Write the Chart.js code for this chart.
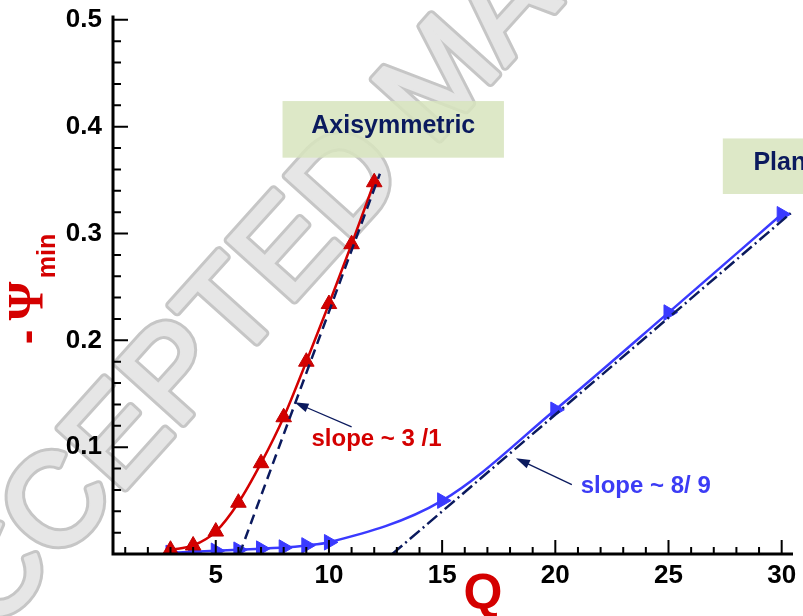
<!DOCTYPE html>
<html>
<head>
<meta charset="utf-8">
<script src="https://cdn.jsdelivr.net/npm/chart.js@4.4.1/dist/chart.umd.min.js"></script>
<style>
  html, body { margin: 0; padding: 0; background: #fff; }
  #wrap { width: 803px; height: 616px; }
</style>
</head>
<body>
<div id="wrap"><canvas id="chart"></canvas></div>
<script>
// values
const axiQ = [3, 4, 5, 6, 7, 8, 9, 10, 11, 12];
const axiPsi = [0.004, 0.008, 0.021, 0.048, 0.085, 0.128, 0.180, 0.234, 0.290, 0.348];
const planQ = [3, 4, 5, 6, 7, 8, 9, 10, 15, 20, 25, 30];
const planPsi = [0.001, 0.002, 0.003, 0.004, 0.005, 0.006, 0.008, 0.011, 0.050, 0.135, 0.226, 0.318];
// fitted asymptotes
const axiFitQ = [6.05, 12.25];
const axiFitPsi = [0, 0.356];
const planFitQ = [12.8, 30.4];
const planFitPsi = [0, 0.319];
// ticks
const xTicks = [5, 10, 15, 20, 25, 30];
const yTicks = [0.1, 0.2, 0.3, 0.4, 0.5];
const xMinor = 1;
const yMinor = 0.02;

const RED = '#d40000';
const BLUE = '#3a3aff';
const NAVY = '#0b1a5e';
const SANS = '"Liberation Sans", Arial, sans-serif';

function pts(xs, ys) {
    return xs.map((x, i) => ({ x: x, y: ys[i] }));
}

function arrow(ctx, x1, y1, x2, y2) {
    const a = Math.atan2(y2 - y1, x2 - x1);
    ctx.strokeStyle = NAVY;
    ctx.fillStyle = NAVY;
    ctx.lineWidth = 1.3;
    ctx.beginPath();
    ctx.moveTo(x1, y1);
    ctx.lineTo(x2 - Math.cos(a) * 8, y2 - Math.sin(a) * 8);
    ctx.stroke();
    ctx.beginPath();
    ctx.moveTo(x2, y2);
    ctx.lineTo(x2 - Math.cos(a) * 14 + Math.sin(a) * 4.5, y2 - Math.sin(a) * 14 - Math.cos(a) * 4.5);
    ctx.lineTo(x2 - Math.cos(a) * 14 - Math.sin(a) * 4.5, y2 - Math.sin(a) * 14 + Math.cos(a) * 4.5);
    ctx.closePath();
    ctx.fill();
}

function rotText(ctx, txt, cx, cy, font, color) {
    ctx.save();
    ctx.translate(cx, cy);
    ctx.rotate(-Math.PI / 2);
    ctx.font = font;
    ctx.fillStyle = color;
    ctx.textAlign = 'center';
    ctx.textBaseline = 'middle';
    ctx.fillText(txt, 0, 0);
    ctx.restore();
}

const hiddenTicks = {
    display: true,
    drawOnChartArea: false,
    drawTicks: true,
    tickLength: 6,
    color: 'rgba(0,0,0,0)'
};

const decorPlugin = {
    id: 'decor',
    beforeDraw(chart) {
        const ctx = chart.ctx;
        const x = chart.scales.x, y = chart.scales.y;

        // watermark
        ctx.save();
        ctx.translate(-92, 676);
        ctx.rotate(-48 * Math.PI / 180);
        ctx.font = '130px ' + SANS;
        ctx.textBaseline = 'middle';
        ctx.lineJoin = 'round';
        ctx.lineWidth = 9;
        ctx.strokeStyle = '#c6c6c6';
        ctx.strokeText('ACCEPTED MANUSCRIPT', 0, 0);
        ctx.lineWidth = 3;
        ctx.strokeStyle = '#e6e6e6';
        ctx.strokeText('ACCEPTED MANUSCRIPT', 0, 0);
        ctx.fillStyle = '#e6e6e6';
        ctx.fillText('ACCEPTED MANUSCRIPT', 0, 0);
        ctx.restore();

        // label boxes
        ctx.save();
        ctx.globalAlpha = 0.85;
        ctx.fillStyle = '#d7e4bd';
        let bx = x.getPixelForValue(7.95), by = y.getPixelForValue(0.424);
        ctx.fillRect(bx, by, x.getPixelForValue(17.73) - bx, y.getPixelForValue(0.371) - by);
        bx = x.getPixelForValue(27.4); by = y.getPixelForValue(0.389);
        ctx.fillRect(bx, by, 200, y.getPixelForValue(0.337) - by);
        ctx.globalAlpha = 1;
        ctx.font = 'bold 25px ' + SANS;
        ctx.fillStyle = NAVY;
        ctx.textBaseline = 'middle';
        ctx.textAlign = 'center';
        ctx.fillText('Axisymmetric', x.getPixelForValue(12.84), y.getPixelForValue(0.401));
        ctx.textAlign = 'left';
        ctx.fillText('Planar', x.getPixelForValue(28.75), y.getPixelForValue(0.366));
        ctx.restore();
    },
    afterDraw(chart) {
        const ctx = chart.ctx;
        const x = chart.scales.x, y = chart.scales.y;
        const a = chart.chartArea;
        ctx.save();
        // axes with inward ticks
        ctx.strokeStyle = '#000';
        ctx.lineWidth = 3;
        ctx.beginPath();
        ctx.moveTo(a.left, a.top);
        ctx.lineTo(a.left, a.bottom);
        ctx.lineTo(a.right, a.bottom);
        ctx.stroke();
        ctx.lineWidth = 2;
        ctx.beginPath();
        for (let v = 1; v <= 30.001; v += xMinor) {
            const px = x.getPixelForValue(v);
            const len = xTicks.includes(Math.round(v)) ? 14 : 7;
            ctx.moveTo(px, a.bottom);
            ctx.lineTo(px, a.bottom - len);
        }
        for (let i = 1; i <= 25; i++) {
            const v = i * yMinor;
            const py = y.getPixelForValue(v);
            const len = i % 5 === 0 ? 15 : 8;
            ctx.moveTo(a.left, py);
            ctx.lineTo(a.left + len, py);
        }
        ctx.stroke();

        // slope notes
        arrow(ctx, x.getPixelForValue(11.0), y.getPixelForValue(0.119), x.getPixelForValue(8.48), y.getPixelForValue(0.142));
        arrow(ctx, x.getPixelForValue(20.73), y.getPixelForValue(0.065), x.getPixelForValue(18.26), y.getPixelForValue(0.0897));
        ctx.font = 'bold 24px ' + SANS;
        ctx.textBaseline = 'middle';
        ctx.textAlign = 'left';
        ctx.fillStyle = RED;
        ctx.fillText('slope ~ 3 /1', x.getPixelForValue(9.23), y.getPixelForValue(0.107));
        ctx.fillStyle = '#3c3cf5';
        ctx.fillText('slope ~ 8/ 9', x.getPixelForValue(21.12), y.getPixelForValue(0.0636));

        // axis titles
        ctx.font = 'bold 50px ' + SANS;
        ctx.fillStyle = RED;
        ctx.textAlign = 'center';
        ctx.textBaseline = 'alphabetic';
        ctx.fillText('Q', 483, 609);
        rotText(ctx, '-', 29, 337, 'bold 44px ' + SANS, RED);
        rotText(ctx, '\u03A8', 29, 301, 'bold 50px "Liberation Serif", serif', RED);
        rotText(ctx, 'min', 48, 256, 'bold 25px ' + SANS, RED);
        ctx.restore();
    }
};

new Chart(document.getElementById('chart'), {
    type: 'scatter',
    data: {
        datasets: [
            {
                label: 'Axisymmetric fit',
                data: pts(axiFitQ, axiFitPsi),
                showLine: true,
                borderColor: NAVY,
                borderWidth: 2.5,
                borderDash: [10, 6],
                pointRadius: 0
            },
            {
                label: 'Planar fit',
                data: pts(planFitQ, planFitPsi),
                showLine: true,
                borderColor: NAVY,
                borderWidth: 2.5,
                borderDash: [13, 4, 2, 4],
                pointRadius: 0
            },
            {
                label: 'Axisymmetric',
                data: pts(axiQ, axiPsi),
                showLine: true,
                cubicInterpolationMode: 'monotone',
                borderColor: RED,
                borderWidth: 2.5,
                pointStyle: 'triangle',
                pointRadius: 9,
                pointBackgroundColor: RED,
                pointBorderColor: '#c00000',
                pointBorderWidth: 1
            },
            {
                label: 'Planar',
                data: pts(planQ, planPsi),
                showLine: true,
                cubicInterpolationMode: 'monotone',
                borderColor: BLUE,
                borderWidth: 2.5,
                pointStyle: 'triangle',
                rotation: 90,
                pointRadius: 9,
                pointBackgroundColor: BLUE,
                pointBorderColor: BLUE,
                pointBorderWidth: 1
            }
        ]
    },
    options: {
        responsive: true,
        maintainAspectRatio: false,
        animation: false,
        layout: { padding: { top: 15, right: 5, left: 0, bottom: 0 } },
        plugins: {
            legend: { display: false },
            tooltip: { enabled: false }
        },
        scales: {
            x: {
                type: 'linear',
                min: 0.46,
                max: 30.5,
                grid: hiddenTicks,
                border: { display: false },
                afterBuildTicks: s => { s.ticks = xTicks.map(v => ({ value: v })); },
                afterFit: s => { s.height = 62; },
                ticks: {
                    color: '#000',
                    padding: 0,
                    maxRotation: 0,
                    font: { family: SANS, size: 26, weight: 'bold' }
                }
            },
            y: {
                type: 'linear',
                min: 0,
                max: 0.504,
                grid: Object.assign({}, hiddenTicks, { tickLength: 11 }),
                border: { display: false },
                afterBuildTicks: s => { s.ticks = yTicks.map(v => ({ value: v })); },
                afterFit: s => { s.width = 113; },
                ticks: {
                    color: '#000',
                    padding: 0,
                    font: { family: SANS, size: 26, weight: 'bold' },
                    callback: v => v.toFixed(1)
                }
            }
        }
    },
    plugins: [decorPlugin]
});
</script>
</body>
</html>
